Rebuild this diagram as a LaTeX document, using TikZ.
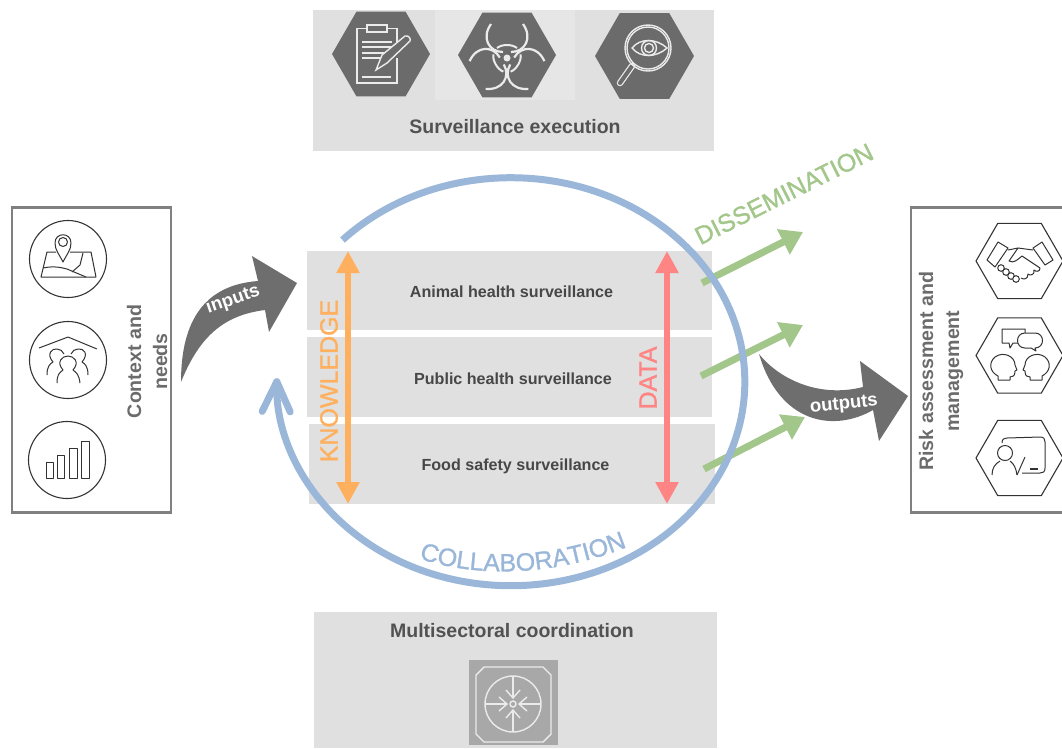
\documentclass[tikz,border=0pt]{standalone}
\usepackage{fontspec}
\setmainfont{Liberation Sans}
\newfontfamily\wordfont[FakeBold=1.2]{Liberation Sans}
\usetikzlibrary{arrows.meta,shapes.geometric,decorations.text}
\definecolor{panelgray}{HTML}{E0E0E0}
\definecolor{panellight}{HTML}{E6E6E6}
\definecolor{hexdark}{HTML}{6B6B6B}
\definecolor{arrowdark}{HTML}{6E6E6E}
\definecolor{boxline}{HTML}{808080}
\definecolor{inkdark}{HTML}{333333}
\definecolor{ringblue}{HTML}{9AB7DA}
\definecolor{knoworange}{HTML}{FFB05E}
\definecolor{datared}{HTML}{FF8585}
\definecolor{dissgreen}{HTML}{A3C78B}
\definecolor{squaregray}{HTML}{A8A8A8}
\begin{document}
\begin{tikzpicture}[x=1pt,y=-1pt,
panel/.style={fill=panelgray,draw=none,inner sep=0pt},
title/.style={font=\fontsize{19.5}{24}\selectfont\bfseries,text=black!68},
rowlabel/.style={font=\fontsize{16.1}{20}\selectfont\bfseries,text=black!72},
sidelabel/.style={font=\fontsize{19.6}{26}\selectfont\bfseries,text=black!58,rotate=90,align=center},
bigword/.style={font=\wordfont\fontsize{25}{30}\selectfont},
darkhex/.style={shape=regular polygon,regular polygon sides=6,fill=hexdark,inner sep=0pt,minimum size=98pt},
linehex/.style={shape=regular polygon,regular polygon sides=6,draw=inkdark,line width=1.1pt,inner sep=0pt,minimum size=87pt},
linecircle/.style={shape=circle,draw=inkdark,line width=1.1pt,inner sep=0pt,minimum size=77pt},
whiteicon/.style={draw=white!92!black,line width=1.4pt},
inkicon/.style={draw=inkdark,line width=1pt,line join=round},
blockarrow/.style={fill=arrowdark,draw=none},
blockword/.style={font=\fontsize{18.5}{22}\selectfont\bfseries,text=white},
greenarrow/.style={draw=dissgreen,line width=7pt,-{Triangle[length=22pt,width=27pt]}},
bothway/.style={line width=6pt,{Triangle[length=22pt,width=22pt]}-{Triangle[length=22pt,width=22pt]}},
]
\useasboundingbox (0,0) rectangle (1062,748);

% top panel
\node[panel,minimum width=401pt,minimum height=141pt] (execpanel) at (513.5,80.5) {};
\node[fill=panellight,inner sep=0pt,minimum width=140pt,minimum height=90pt] (biopanel) at (505,55) {};
\node[title] (exectext) at (515,127) {Surveillance execution};
\node[darkhex] (planhex) at (381,54) {};
\node[darkhex] (biohex) at (507,55) {};
\node[darkhex,minimum size=99pt] (eyehex) at (644.5,56) {};

% clipboard
\draw[whiteicon] (367,28.5) -- (357,28.5) -- (357,83) -- (397,83) -- (397,58);
\draw[whiteicon] (387,28.5) -- (397,28.5) -- (397,42);
\draw[whiteicon] (367,25) rectangle (387,32);
\foreach \liney in {42,47,53,58}
	\draw[whiteicon] (362,\liney) -- (392,\liney);
\draw[whiteicon] (362,77) -- (391,77);
\draw[whiteicon,fill=hexdark] (376,70) -- (382,55) -- (405,36) .. controls (409,35) and (411,39) .. (410,41) -- (387,63) -- cycle;

% biohazard
\foreach \turn in {0,120,240}{
	\begin{scope}[shift={(507,58)},rotate=\turn]
	\draw[whiteicon,line width=2.2pt] (-16,-34) .. controls (-26,-20) and (-18,-6) .. (-4,-6);
	\draw[whiteicon,line width=2.2pt] (16,-34) .. controls (26,-20) and (18,-6) .. (4,-6);
	\draw[whiteicon,line width=2pt] (-10,-10) .. controls (-5,-14) and (5,-14) .. (10,-10);
	\end{scope}
}
\fill[white!92!black] (507,58) circle (3.5pt);

% magnifier
\draw[white!92!black,line width=6.5pt,line cap=round] (632,66) -- (620,83);
\draw[hexdark,line width=4pt,line cap=round] (632,66) -- (620,83);
\draw[whiteicon] (648,48) circle (23pt);
\draw[whiteicon] (648,48) circle (21pt);
\draw[whiteicon] (632,48) .. controls (640,38) and (656,38) .. (667,48) .. controls (656,58) and (640,58) .. cycle;
\draw[whiteicon] (649,48) circle (7.5pt);
\draw[whiteicon] (649,48) circle (4.5pt);

% left box
\node[draw=boxline,line width=2.5pt,inner sep=0pt,minimum width=159pt,minimum height=305pt] (contextbox) at (91.5,360) {};
\node[sidelabel] (contexttext) at (147,361.5) {Context and\\needs};
\node[linecircle] (mapcircle) at (68,259) {};
\node[linecircle] (peoplecircle) at (68,360) {};
\node[linecircle] (barcircle) at (67,460) {};

% map
\draw[inkicon] (56,252) -- (47,252) -- (41,277) -- (96,277) -- (91,252) -- (70,252);
\draw[inkicon] (43,268) .. controls (52,266) and (60,267) .. (67,269) -- (86,277);
\draw[inkicon] (83,253) -- (80,265) -- (72,272);
\draw[inkicon,fill=white] (63,262) .. controls (59,254) and (55,250) .. (55,243) .. controls (55,232) and (71,232) .. (71,243) .. controls (71,250) and (67,254) .. cycle;
\draw[inkicon] (63,242) circle (4.5pt);

% people
\draw[inkicon] (39,348) -- (68,337) -- (97,349);
\draw[inkicon] (47,375) .. controls (47,366) and (50,364) .. (53,362) .. controls (46,354) and (52,348) .. (57,349) .. controls (60,349) and (63,351) .. (64,354);
\draw[inkicon] (88,375) .. controls (88,366) and (85,364) .. (82,362) .. controls (89,354) and (84,348) .. (78,349) .. controls (75,349) and (72,351) .. (71,354);
\draw[inkicon] (57,383) .. controls (57,375) and (59,373) .. (63,370) .. controls (56,362) and (62,356) .. (68,356) .. controls (74,356) and (80,362) .. (73,370) .. controls (77,373) and (79,375) .. (80,383);

% bars
\draw[inkicon] (46,462) rectangle (53,478);
\draw[inkicon] (57,455) rectangle (64,478);
\draw[inkicon] (69,448) rectangle (77,478);
\draw[inkicon] (81,441) rectangle (89,478);

% inputs arrow
\fill[blockarrow] (181,382) .. controls (181,320) and (205,285) .. (258,281) -- (252,256) -- (297,283) -- (269,332) -- (265,310) .. controls (225,315) and (200,335) .. cycle;
\node[blockword,rotate=19] (inputstext) at (233,300) {inputs};

% rows
\node[panel,minimum width=405pt,minimum height=79pt] (animalrow) at (509.5,290.5) {};
\node[panel,minimum width=405pt,minimum height=80pt] (publicrow) at (509.5,377) {};
\node[panel,minimum width=406pt,minimum height=80pt] (foodrow) at (512,464) {};
\node[rowlabel] (animaltext) at (511.5,292) {Animal health surveillance};
\node[rowlabel] (publictext) at (513,379) {Public health surveillance};
\node[rowlabel] (foodtext) at (515.5,466) {Food safety surveillance};

% outgoing arrows
\coordinate (diss1a) at (702,283);
\coordinate (diss1b) at (803,232);
\coordinate (diss2a) at (701,376);
\coordinate (diss2b) at (803,325);
\coordinate (diss3a) at (704,469);
\coordinate (diss3b) at (805,417);
\draw[greenarrow] (diss1a) -- (diss1b);
\draw[greenarrow] (diss2a) -- (diss2b);
\draw[greenarrow] (diss3a) -- (diss3b);
\node[bigword,text=dissgreen,rotate=26.5] (disstext) at (784,194) {DISSEMINATION};

% ring
\coordinate (ringstart) at (342.5,240);
\draw[draw=ringblue,line width=7pt,-{Straight Barb[round,length=30pt,width=28pt]}] (ringstart) arc[start angle=136,end angle=-181,x radius=234pt,y radius=204pt];
\path[decorate,decoration={text along path,text align=center,text={|\wordfont\fontsize{25}{28}\selectfont\color{ringblue}|COLLABORATION}}] (414,557) .. controls (480,580) and (560,575) .. (632,545);

% knowledge and data
\coordinate (knowtop) at (348,251);
\coordinate (knowbot) at (348,504);
\coordinate (datatop) at (667,251);
\coordinate (databot) at (667,504);
\draw[bothway,draw=knoworange] (knowtop) -- (knowbot);
\draw[bothway,draw=datared] (datatop) -- (databot);
\node[bigword,text=knoworange,rotate=90] (knowtext) at (329,381) {KNOWLEDGE};
\node[bigword,text=datared,rotate=90] (datatext) at (648,378) {DATA};

% outputs arrow
\fill[blockarrow] (759,354) .. controls (780,380) and (820,398) .. (863,387) -- (860,361) -- (908,396) -- (879,441) -- (873,410) .. controls (835,432) and (780,425) .. cycle;
\node[blockword,rotate=6] (outputstext) at (844,405) {outputs};

% right box
\draw[draw=boxline,line width=2.5pt] (1072,207.5) -- (911,207.5) -- (911,512.5) -- (1072,512.5);
\node[sidelabel] (risktext) at (941,371) {Risk assessment and\\management};
\node[linehex] (shakehex) at (1019.5,261) {};
\node[linehex] (talkhex) at (1019.5,355.5) {};
\node[linehex] (teachhex) at (1019.5,458) {};

% handshake
\draw[inkicon] (998,242) -- (987,260) -- (995,267) -- (1008,248) -- cycle;
\draw[inkicon] (1042,242) -- (1053,260) -- (1045,265) -- (1033,248) -- cycle;
\draw[inkicon] (1008,250) -- (1018,248) -- (1033,250);
\draw[inkicon] (1018,248) -- (1009,261) .. controls (1014,264) and (1018,259) .. (1022,256) -- (1040,268);
\draw[inkicon] (1040,268) .. controls (1040,272) and (1036,272) .. (1034,270) .. controls (1035,275) and (1030,276) .. (1028,274) .. controls (1028,279) and (1024,280) .. (1021,278);
\foreach \fingerx/\fingery in {1001/268,1006/272,1011/276,1016/279}
	\draw[inkicon,fill=white] (\fingerx,\fingery) circle (3.3pt);

% speech and heads
\draw[inkicon] (1002,329) -- (1025,329) -- (1025,343) -- (1013,343) -- (1010,348) -- (1009,343) -- (1002,343) -- cycle;
\draw[inkicon,fill=white] (1025,333) -- (1035,333) .. controls (1045,333) and (1045,348) .. (1035,348) -- (1036,351) -- (1031,348) -- (1025,348) .. controls (1015,348) and (1015,333) .. (1025,333);
\draw[inkicon] (998,380) -- (998,376) .. controls (990,372) and (988,363) .. (995,357) .. controls (1003,351) and (1015,356) .. (1015,365) -- (1017,370) -- (1015,371) .. controls (1015,376) and (1013,377) .. (1010,377) -- (1010,380) -- cycle;
\draw[inkicon] (1042,380) -- (1042,376) .. controls (1050,372) and (1052,363) .. (1045,357) .. controls (1037,351) and (1025,356) .. (1025,365) -- (1023,370) -- (1025,371) .. controls (1025,376) and (1027,377) .. (1030,377) -- (1030,380) -- cycle;

% teacher
\draw[inkicon] (1002,443) .. controls (1002,439) and (1004,438) .. (1007,438) -- (1040,437) .. controls (1044,437) and (1045,439) .. (1045,442) -- (1045,468) .. controls (1045,472) and (1043,473) .. (1040,473) -- (1022,473);
\draw[inkicon] (1017,475) -- (1025,457);
\draw[inkicon,line width=1.4pt] (1030,469) -- (1038,469);
\draw[inkicon] (1005,453) circle (7.5pt);
\draw[inkicon] (992,475) .. controls (992,468) and (995,464) .. (1000,461);
\draw[inkicon] (1017,475) .. controls (1016,468) and (1014,464) .. (1010,461);

% bottom panel
\node[panel,minimum width=403pt,minimum height=136pt] (coordpanel) at (515.5,680) {};
\node[title] (coordtext) at (512,631) {Multisectoral coordination};
\node[fill=squaregray,inner sep=0pt,minimum width=89pt,minimum height=85pt] (coordsquare) at (513.5,702.5) {};
\draw[whiteicon] (484,667) -- (543,667) -- (551,675) -- (551,734) -- (543,742) -- (484,742) -- (476,734) -- (476,675) -- cycle;
\draw[whiteicon] (513,704) circle (28pt);
\draw[whiteicon] (513,704) circle (3pt);
\foreach \turn in {0,90,180,270}{
	\begin{scope}[shift={(513,704)},rotate=\turn]
	\draw[whiteicon] (0,-28) -- (0,-6);
	\draw[whiteicon] (-7,-14) -- (0,-6) -- (7,-14);
	\end{scope}
}
\end{tikzpicture}
\end{document}
